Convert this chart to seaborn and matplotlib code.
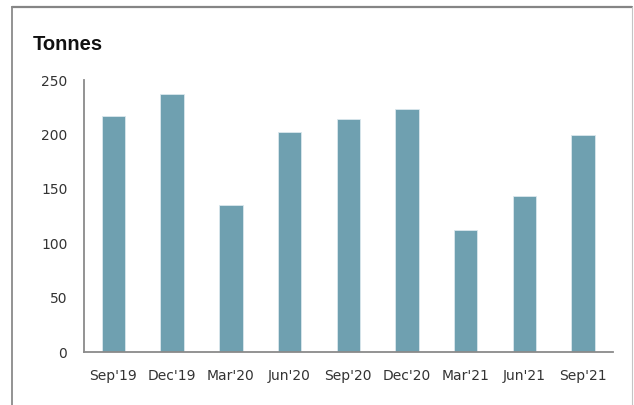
import pandas as pd
import seaborn as sns
from matplotlib import pyplot as plt
from matplotlib.lines import Line2D

# quarterly values (tonnes)
quarters = ["Sep'19", "Dec'19", "Mar'20", "Jun'20", "Sep'20",
            "Dec'20", "Mar'21", "Jun'21", "Sep'21"]
tonnes = [217, 237, 135, 202, 214, 223, 112, 143, 199]
y_ticks = [0, 50, 100, 150, 200, 250]

df = pd.DataFrame({"quarter": quarters, "tonnes": tonnes})

sns.set_style("white")
plt.rcParams["font.family"] = ["DejaVu Sans"]

W, H = 634, 405
fig = plt.figure(figsize=(W / 100, H / 100), dpi=100)
ax = fig.add_axes([84 / W, 1 - 352 / H, (612.5 - 84) / W, (352 - 80) / H])

sns.barplot(data=df, x="quarter", y="tonnes", color="#6FA0B0", width=0.4,
            saturation=1, edgecolor="#dbe8ed", linewidth=0.6, ax=ax)

ax.set_ylim(0, 250)
ax.set_yticks(y_ticks)
ax.set_xlabel("")
ax.set_ylabel("")
for side in ["top", "right"]:
    ax.spines[side].set_visible(False)
for side in ["left", "bottom"]:
    ax.spines[side].set_color("#8a8a8a")
    ax.spines[side].set_linewidth(1.3)
ax.tick_params(axis="both", length=0, labelsize=10, labelcolor="#333333", pad=12)

# chart title in the top-left corner
fig.text(33 / W, 1 - 44 / H, "Tonnes", fontsize=14.5, fontweight="bold",
         family=["Liberation Sans", "DejaVu Sans"], color="#111111",
         ha="left", va="center")

# outer frame of the chart area (bottom edge falls outside the image)
def px(x, y):
    return x / W, 1 - y / H

x0, y0 = px(12, 7)
x1, _ = px(632, 7)
fig.add_artist(Line2D([x0, x1], [y0, y0], color="#858585", lw=1.6, transform=fig.transFigure))
fig.add_artist(Line2D([x0, x0], [y0, -0.05], color="#8a8a8a", lw=1.3, transform=fig.transFigure))
fig.add_artist(Line2D([x1, x1], [y0, -0.05], color="#c4c4c4", lw=0.8, transform=fig.transFigure))

fig.savefig("out.png", dpi=100)
